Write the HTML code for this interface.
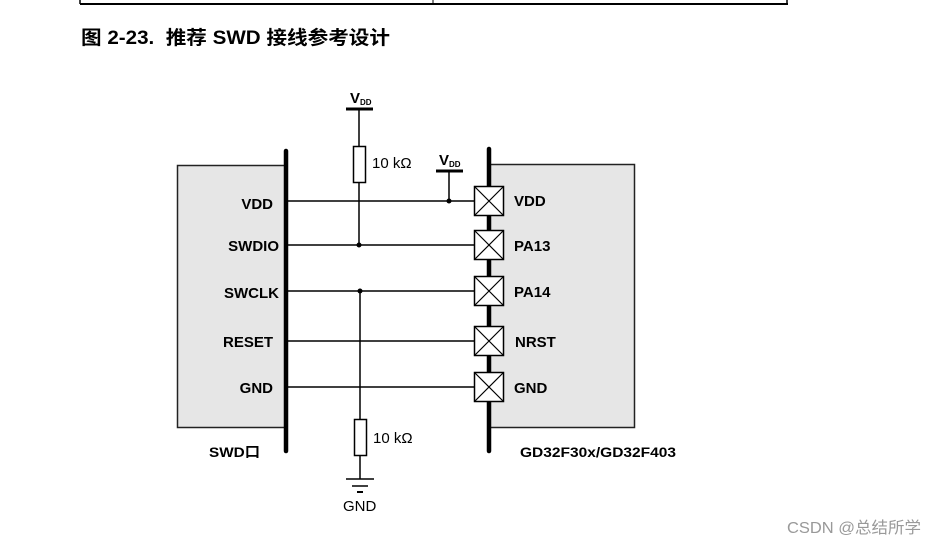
<!DOCTYPE html>
<html><head><meta charset="utf-8"><style>
html,body{margin:0;padding:0;background:#fff;}
svg{display:block;}
text{font-family:"Liberation Sans","Noto Sans CJK SC",sans-serif;}
</style></head><body>
<svg width="938" height="547" viewBox="0 0 938 547" xmlns="http://www.w3.org/2000/svg">
<line x1="80" y1="0" x2="80" y2="4" stroke="#000" stroke-width="1.5"/>
<line x1="787" y1="0" x2="787" y2="4" stroke="#000" stroke-width="1.5"/>
<line x1="433" y1="0" x2="433" y2="4" stroke="#000" stroke-width="1"/>
<line x1="80" y1="4" x2="788" y2="4" stroke="#000" stroke-width="2"/>
<text x="81" y="44" font-size="19" font-weight="bold" fill="#000" textLength="309" lengthAdjust="spacingAndGlyphs">图 2-23.&#160; 推荐 SWD 接线参考设计</text>

<rect x="177.5" y="165.5" width="109" height="262" fill="#e6e6e6" stroke="#222" stroke-width="1.5"/>
<rect x="489.5" y="164.5" width="145" height="263" fill="#e6e6e6" stroke="#222" stroke-width="1.5"/>

<g stroke="#000" stroke-width="1.5">
<line x1="286" y1="201" x2="475" y2="201"/>
<line x1="286" y1="245" x2="475" y2="245"/>
<line x1="286" y1="291" x2="475" y2="291"/>
<line x1="286" y1="341" x2="475" y2="341"/>
<line x1="286" y1="387" x2="475" y2="387"/>
<line x1="359" y1="108" x2="359" y2="146"/>
<line x1="359" y1="183" x2="359" y2="245"/>
<line x1="449" y1="171" x2="449" y2="201"/>
<line x1="360" y1="291" x2="360" y2="419"/>
<line x1="360" y1="456" x2="360" y2="479"/>
<line x1="346" y1="479" x2="374" y2="479"/>
<line x1="352" y1="486" x2="368" y2="486"/>
</g>
<line x1="357" y1="492" x2="363" y2="492" stroke="#000" stroke-width="2"/>
<rect x="353.5" y="146.5" width="12" height="36" fill="#fff" stroke="#000" stroke-width="1.5"/>
<rect x="354.5" y="419.5" width="12" height="36" fill="#fff" stroke="#000" stroke-width="1.5"/>
<line x1="346" y1="109" x2="373" y2="109" stroke="#000" stroke-width="3"/>
<line x1="436" y1="171" x2="463" y2="171" stroke="#000" stroke-width="3"/>
<circle cx="359" cy="245" r="2.5"/>
<circle cx="449" cy="201" r="2.5"/>
<circle cx="360" cy="291" r="2.5"/>

<line x1="286" y1="151" x2="286" y2="451" stroke="#000" stroke-width="4.5" stroke-linecap="round"/>
<line x1="489" y1="149" x2="489" y2="451" stroke="#000" stroke-width="4.5" stroke-linecap="round"/>

<g fill="#fff" stroke="#000" stroke-width="1.5">
<rect x="474.5" y="186.5" width="29" height="29"/>
<rect x="474.5" y="230.5" width="29" height="29"/>
<rect x="474.5" y="276.5" width="29" height="29"/>
<rect x="474.5" y="326.5" width="29" height="29"/>
<rect x="474.5" y="372.5" width="29" height="29"/>
</g>
<g stroke="#000" stroke-width="1.2">
<path d="M475 187L503 215M503 187L475 215"/>
<path d="M475 231L503 259M503 231L475 259"/>
<path d="M475 277L503 305M503 277L475 305"/>
<path d="M475 327L503 355M503 327L475 355"/>
<path d="M475 373L503 401M503 373L475 401"/>
</g>

<g font-size="15" font-weight="bold" fill="#000">
<text x="273" y="209" text-anchor="end">VDD</text>
<text x="279" y="251" text-anchor="end">SWDIO</text>
<text x="279" y="298" text-anchor="end">SWCLK</text>
<text x="273" y="347" text-anchor="end">RESET</text>
<text x="273" y="393" text-anchor="end">GND</text>
<text x="514" y="206">VDD</text>
<text x="514" y="251">PA13</text>
<text x="514" y="297">PA14</text>
<text x="515" y="347">NRST</text>
<text x="514" y="393">GND</text>
<text x="209" y="457" font-size="14" textLength="51" lengthAdjust="spacingAndGlyphs">SWD口</text>
<text x="520" y="457" font-size="14" textLength="156" lengthAdjust="spacingAndGlyphs">GD32F30x/GD32F403</text>
<text x="350" y="103" font-size="15">V<tspan font-size="8" dy="2">DD</tspan></text>
<text x="439" y="165" font-size="15">V<tspan font-size="8" dy="2">DD</tspan></text>
</g>
<g font-size="15" fill="#000">
<text x="372" y="168">10 kΩ</text>
<text x="373" y="443">10 kΩ</text>
<text x="343" y="511">GND</text>
</g>
<text x="787" y="533" font-size="16" fill="#999" textLength="134" lengthAdjust="spacingAndGlyphs">CSDN @总结所学</text>
</svg>
</body></html>
